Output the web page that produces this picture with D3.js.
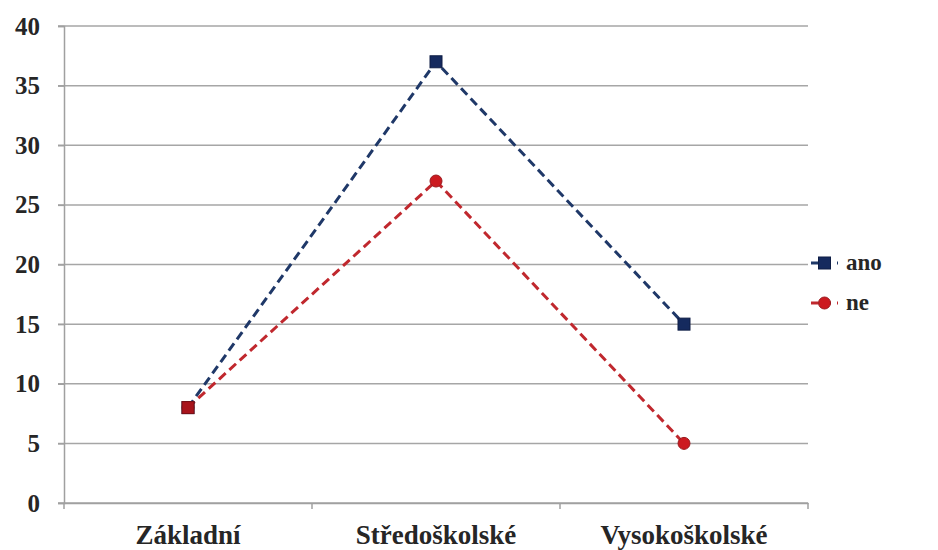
<!DOCTYPE html>
<html>
<head>
<meta charset="utf-8">
<script src="https://cdn.jsdelivr.net/npm/d3@7"></script>
<style>
  html, body { margin: 0; padding: 0; background: #ffffff; }
  .lbl { font-family: "Liberation Serif", serif; font-weight: bold; }
</style>
</head>
<body>
<div id="c"></div>
<script>
// Education level categories and the two answer series
const categories = ["Základní", "Středoškolské", "Vysokoškolské"];
const anoValues = [8, 37, 15];
const neValues = [8, 27, 5];
const yTicks = [0, 5, 10, 15, 20, 25, 30, 35, 40];
const seriesNames = ["ano", "ne"];

const width = 938, height = 550;
const margin = { top: 26, right: 130, bottom: 47, left: 64 };
const labelFont = '"Liberation Serif"';
const textColor = "#262626";

function styleText(sel, size) {
  sel.attr("class", "lbl")
    .attr("font-family", "Liberation Serif")
    .style("font-family", labelFont)
    .style("font-weight", "bold")
    .style("font-size", size + "px")
    .attr("fill", textColor);
}

const svg = d3.select("#c").append("svg")
  .attr("width", width).attr("height", height);

const x = d3.scaleBand()
  .domain(categories)
  .range([margin.left, width - margin.right]);

const y = d3.scaleLinear()
  .domain([0, 40])
  .range([height - margin.bottom, margin.top]);

// Horizontal gridlines
svg.append("g")
  .selectAll("line")
  .data(yTicks)
  .join("line")
  .attr("x1", margin.left - 6)
  .attr("x2", width - margin.right)
  .attr("y1", d => y(d))
  .attr("y2", d => y(d))
  .attr("stroke", "#a6a6a6")
  .attr("stroke-width", 1.5);

// Y axis
const yAxis = svg.append("g")
  .attr("transform", `translate(${margin.left},0)`)
  .call(d3.axisLeft(y).tickValues(yTicks).tickSize(6).tickPadding(18));
yAxis.attr("font-family", "Liberation Serif");
yAxis.select(".domain").attr("stroke", "#a0a0a0").attr("stroke-width", 1.5);
yAxis.selectAll(".tick line").attr("stroke", "#a0a0a0").attr("stroke-width", 1.5);
styleText(yAxis.selectAll(".tick text"), 25);

// X axis
const xAxis = svg.append("g")
  .attr("transform", `translate(0,${y(0)})`)
  .call(d3.axisBottom(x).tickSize(0).tickPadding(22));
xAxis.attr("font-family", "Liberation Serif");
xAxis.select(".domain").attr("stroke", "#a0a0a0").attr("stroke-width", 1.5);
styleText(xAxis.selectAll(".tick text"), 27);

// Category boundary ticks on the x axis
const boundaries = categories.map(c => x(c)).concat([x(categories[categories.length - 1]) + x.bandwidth()]);
svg.append("g")
  .selectAll("line")
  .data(boundaries)
  .join("line")
  .attr("x1", d => d).attr("x2", d => d)
  .attr("y1", y(0)).attr("y2", y(0) + 6)
  .attr("stroke", "#a0a0a0")
  .attr("stroke-width", 1.5);

const cx = c => x(c) + x.bandwidth() / 2;

const series = [
  { name: seriesNames[0], values: anoValues, color: "#1f3868", fill: "#152a5e", shape: "square" },
  { name: seriesNames[1], values: neValues, color: "#c0282e", fill: "#cc1a20", shape: "circle" }
];

const line = d3.line()
  .x((d, i) => cx(categories[i]))
  .y(d => y(d));

// Dashed lines for both series
series.forEach(s => {
  svg.append("path")
    .datum(s.values)
    .attr("d", line)
    .attr("fill", "none")
    .attr("stroke", s.color)
    .attr("stroke-width", 3)
    .attr("stroke-dasharray", "9,5");
});

function drawMarker(g, shape, px, py, s) {
  if (shape === "square") {
    g.append("rect")
      .attr("x", px - 6).attr("y", py - 6)
      .attr("width", 12).attr("height", 12)
      .attr("fill", s.fill)
      .attr("stroke", "#0e1d45")
      .attr("stroke-width", 1);
  } else {
    g.append("circle")
      .attr("cx", px).attr("cy", py).attr("r", 6)
      .attr("fill", s.fill)
      .attr("stroke", "#9a1a1e")
      .attr("stroke-width", 1);
  }
}

// Markers for every data point
const markerLayer = svg.append("g");
series.slice().reverse().forEach(s => {
  s.values.forEach((v, i) => {
    drawMarker(markerLayer, s.shape, cx(categories[i]), y(v), s);
  });
});
// Shared first point appears as a dark red square
{
  const s = series[1];
  markerLayer.append("rect")
    .attr("x", cx(categories[0]) - 6).attr("y", y(s.values[0]) - 6)
    .attr("width", 12).attr("height", 12)
    .attr("fill", "#a8141c")
    .attr("stroke", "#7a1016")
    .attr("stroke-width", 1);
}

// Legend
const legend = svg.append("g");
series.forEach((s, i) => {
  const ly = 263 + i * 40;
  const g = legend.append("g");
  g.append("line")
    .attr("x1", 811).attr("x2", 838)
    .attr("y1", ly).attr("y2", ly)
    .attr("stroke", s.color)
    .attr("stroke-width", 3)
    .attr("stroke-dasharray", "7,6");
  drawMarker(g, s.shape, 824.5, ly, s);
  const t = g.append("text")
    .attr("x", 846)
    .attr("y", ly)
    .attr("dy", "0.32em")
    .text(s.name);
  styleText(t, 23);
});
</script>
</body>
</html>
